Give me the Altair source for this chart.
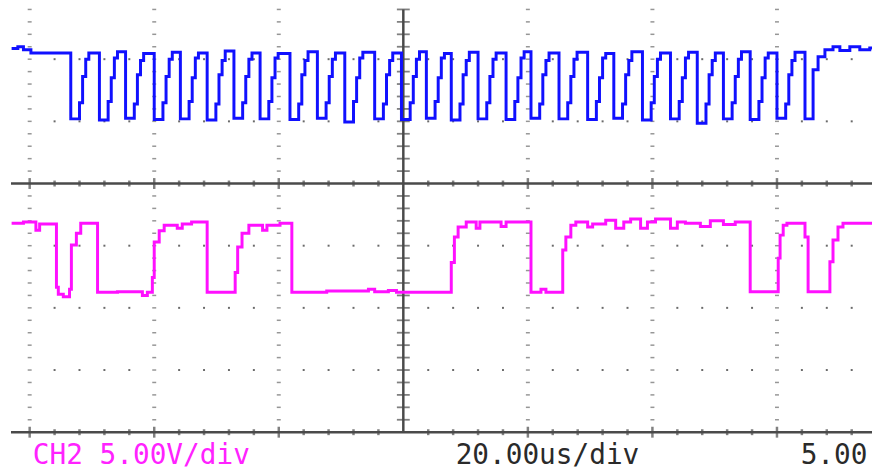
import altair as alt
import pandas as pd

# ---------------- data (time in us, level in divisions) ----------------
# CH1 (blue) trace, step-after points
blue_t = [
    -62.9, -61.9, -61.0, -59.8,
    -53.4, -52.0, -51.5, -51.0, -50.5,
    -48.8, -47.4, -46.9, -46.4, -45.9,
    -44.6, -43.2, -42.7, -42.2, -41.7,
    -40.0, -38.6, -38.1, -37.6, -37.1,
    -35.8, -34.4, -33.9, -33.4, -32.9,
    -31.5, -30.1, -29.6, -29.1, -28.6,
    -27.2, -25.8, -25.3, -24.8, -24.3,
    -23.0, -21.6, -21.1, -20.6, -20.1,
    -18.2, -16.8, -16.3, -15.8, -15.3,
    -13.8, -12.4, -11.9, -11.4, -10.9,
    -9.4, -8.0, -7.5, -7.0, -6.5,
    -4.6, -3.2, -2.7, -2.2, -1.7,
    -0.3, 1.1, 1.6, 2.1, 2.6,
    3.7, 5.1, 5.6, 6.1, 6.6,
    7.7, 9.1, 9.6, 10.1, 10.6,
    12.0, 13.4, 13.9, 14.4, 14.9,
    16.5, 17.9, 18.4, 18.9, 19.4,
    20.5, 21.9, 22.4, 22.9, 23.4,
    25.0, 26.4, 26.9, 27.4, 27.9,
    29.6, 31.0, 31.5, 32.0, 32.5,
    33.8, 35.2, 35.7, 36.2, 36.7,
    38.4, 39.8, 40.3, 40.8, 41.3,
    42.9, 44.3, 44.8, 45.3, 45.8,
    47.2, 48.6, 49.1, 49.6, 50.1,
    51.4, 52.8, 53.3, 53.8, 54.3,
    55.7, 57.1, 57.6, 58.1, 58.6,
    60.0, 61.4, 61.9, 62.4, 62.9,
    64.5, 65.8, 66.6, 67.7, 69.0, 70.1, 71.7, 73.3, 74.9, 75.3,
]
blue_v = [
    2.17, 2.20, 2.15, 2.10,
    1.04, 1.30, 1.72, 2.00, 2.10,
    1.02, 1.32, 1.70, 2.02, 2.12,
    1.05, 1.28, 1.75, 1.98, 2.09,
    1.03, 1.30, 1.72, 2.00, 2.11,
    1.04, 1.32, 1.70, 2.02, 2.10,
    1.02, 1.28, 1.75, 1.98, 2.13,
    1.05, 1.30, 1.72, 2.00, 2.10,
    1.04, 1.32, 1.70, 2.02, 2.09,
    1.03, 1.28, 1.75, 1.98, 2.12,
    1.05, 1.30, 1.72, 2.00, 2.10,
    0.99, 1.32, 1.70, 2.02, 2.11,
    1.04, 1.28, 1.75, 1.98, 2.10,
    1.03, 1.30, 1.72, 2.00, 2.12,
    1.05, 1.32, 1.70, 2.02, 2.09,
    1.02, 1.28, 1.75, 1.98, 2.11,
    1.04, 1.30, 1.72, 2.00, 2.10,
    1.03, 1.32, 1.70, 2.02, 2.12,
    1.05, 1.28, 1.75, 1.98, 2.10,
    1.04, 1.30, 1.72, 2.00, 2.11,
    1.03, 1.32, 1.70, 2.02, 2.09,
    1.05, 1.28, 1.75, 1.98, 2.12,
    1.02, 1.30, 1.72, 2.00, 2.10,
    1.04, 1.32, 1.70, 2.02, 2.11,
    0.97, 1.28, 1.75, 1.98, 2.10,
    1.04, 1.30, 1.72, 2.00, 2.12,
    1.03, 1.32, 1.70, 2.02, 2.10,
    1.05, 1.28, 1.75, 1.98, 2.11,
    1.04, 1.83, 2.04, 2.15, 2.20, 2.14, 2.20, 2.15, 2.18, 2.18,
]

# CH2 (magenta) trace, step-after points
mag_t = [
    -62.9, -61.0, -59.0, -58.4, -55.7, -55.4, -54.6, -53.6, -53.3, -52.5, -51.8,
    -49.1, -45.9, -41.9, -41.1, -40.3, -40.0, -39.2, -38.4, -36.3, -35.5, -34.0,
    -31.5, -27.0, -26.6, -25.9, -24.8, -22.6, -21.9, -19.8,
    -17.9, -12.3, -5.6, -4.6, -2.4, -1.1,
    7.7, 8.2, 8.8, 10.1, 11.7, 12.3, 15.7, 16.5,
    20.5, 22.1, 22.9, 25.6, 26.1, 26.9, 27.7, 29.6, 30.4, 32.5, 34.1, 35.4, 36.5,
    38.1, 39.2, 40.5, 42.9, 44.0, 45.3, 47.7, 49.3, 51.4, 53.3,
    55.7, 60.2, 60.5, 61.0, 61.6, 64.5, 65.0, 68.5, 69.0, 69.8, 70.6, 75.3,
]
mag_v = [
    -0.64, -0.62, -0.75, -0.65, -1.67, -1.78, -1.82, -1.70, -0.99, -0.80, -0.64,
    -1.75, -1.74, -1.80, -1.75, -1.51, -0.94, -0.76, -0.67, -0.72, -0.65, -0.62,
    -1.75, -1.43, -1.02, -0.80, -0.67, -0.75, -0.67, -0.64,
    -1.75, -1.73, -1.70, -1.74, -1.72, -1.75,
    -1.27, -0.86, -0.70, -0.62, -0.72, -0.62, -0.69, -0.62,
    -1.75, -1.70, -1.75, -1.07, -0.86, -0.67, -0.62, -0.70, -0.65, -0.59, -0.72, -0.62, -0.57,
    -0.72, -0.62, -0.57, -0.72, -0.62, -0.64, -0.69, -0.60, -0.66, -0.62,
    -1.74, -1.20, -0.83, -0.67, -0.64, -0.86, -1.74, -1.26, -0.91, -0.70, -0.64, -0.64,
]

# screen labels
label_text = ["CH2 5.00V/div", "20.00us/div", "5.00"]
label_t = [-59.5, 8.4, 63.8]
label_v = [-4.51, -4.51, -4.51]
label_color = ["#ff22ff", "#2a2a2a", "#2a2a2a"]

# graticule (divisions: 20 us horizontally, 1 div vertically)
major_t = [-60, -40, -20, 20, 40, 60]
major_v = [-3, -2, -1, 1, 2]
minor_dt = 4.0
minor_dv = 0.2

# ---------------- layout ----------------
W, H = 872, 464
XD = [-63.48, 75.26]
YD = [-4.606, 2.789]
GRID = "#4a4a4a"
DOT = "#6a6a6a"


def X(f="t"):
    return alt.X(f"{f}:Q", scale=alt.Scale(domain=XD, nice=False, zero=False), axis=None)


def Y(f="v"):
    return alt.Y(f"{f}:Q", scale=alt.Scale(domain=YD, nice=False, zero=False), axis=None)


t_lo, t_hi = -63.0, 75.3
minor_ts = [round(k * minor_dt, 2) for k in range(-15, 19) if k != 0]
minor_vs = [round(k * minor_dv, 2) for k in range(-19, 15) if k != 0]

solid = pd.DataFrame({
    "t": [t_lo, t_lo, 0.0], "t2": [t_hi, t_hi, 0.0],
    "v": [0.0, -4.0, 2.8], "v2": [0.0, -4.0, -4.0],
})
solid_layer = alt.Chart(solid).mark_rule(color=GRID, strokeWidth=2.5).encode(
    x=X(), x2="t2:Q", y=Y(), y2="v2:Q")

# ticks on the horizontal centre line and bottom line
h_ticks = pd.DataFrame([
    {"t": t, "v": v, "s": (11 if t in major_t else 6)}
    for v in (0.0, -4.0) for t in minor_ts
])
h_tick_layer = alt.Chart(h_ticks).mark_tick(orient="vertical", color=GRID, thickness=2.5).encode(
    x=X(), y=Y(), size=alt.Size("s:Q", scale=None))

# ticks on the vertical centre line
v_ticks = pd.DataFrame([{"t": 0.0, "v": v} for v in minor_vs if v >= -3.9])
v_tick_layer = alt.Chart(v_ticks).mark_tick(orient="horizontal", color=GRID, thickness=1.8, size=13).encode(
    x=X(), y=Y())

# dotted vertical grid lines
vdots = pd.DataFrame([{"t": t, "v": v} for t in major_t for v in minor_vs if v >= -3.9])
vdot_layer = alt.Chart(vdots).mark_tick(orient="horizontal", color=DOT, thickness=1.5, size=4).encode(
    x=X(), y=Y())

# dotted horizontal grid lines
hdots = pd.DataFrame([{"t": t, "v": v} for v in major_v for t in minor_ts if t not in major_t])
hdot_layer = alt.Chart(hdots).mark_square(color=DOT, size=4, opacity=1).encode(x=X(), y=Y())

# traces
blue = pd.DataFrame({"t": blue_t, "v": blue_v})
mag = pd.DataFrame({"t": mag_t, "v": mag_v})
blue_layer = alt.Chart(blue).mark_line(interpolate="step-after", color="#1010ff", strokeWidth=3).encode(
    x=X(), y=Y(), order="t:Q")
mag_layer = alt.Chart(mag).mark_line(interpolate="step-after", color="#ff10ff", strokeWidth=3).encode(
    x=X(), y=Y(), order="t:Q")

labels = pd.DataFrame({"t": label_t, "v": label_v, "label": label_text, "c": label_color})
text_layer = alt.Chart(labels).mark_text(
    font="DejaVu Sans Mono", fontSize=28, align="left", baseline="alphabetic"
).encode(x=X(), y=Y(), text="label:N", color=alt.Color("c:N", scale=None))

chart = alt.layer(
    vdot_layer, hdot_layer, solid_layer, h_tick_layer, v_tick_layer,
    blue_layer, mag_layer, text_layer,
).properties(
    width=W, height=H, padding=0,
    autosize=alt.AutoSizeParams(type="none"),
    background="white",
).configure_view(stroke=None)

chart.save("out.html", embed_options={"renderer": "svg", "actions": False})
